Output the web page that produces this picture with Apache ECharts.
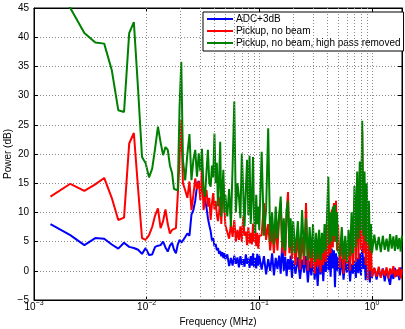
<!DOCTYPE html>
<html><head><meta charset="utf-8">
<script src="https://cdn.jsdelivr.net/npm/echarts@6/dist/echarts.min.js"></script>
<style>html,body{margin:0;padding:0;background:#fff}#c{width:405px;height:329px}</style>
</head><body><div id="c"></div>
<script>
// Frequency samples (MHz)
const freqs = [
0.0014,0.0021,0.0028,0.0035,0.0042,0.0049,0.0056,0.0063,0.0070,0.0077,
0.0084,0.0091,0.0098,0.0105,0.0112,0.0119,0.0126,0.0133,0.0140,0.0147,
0.0154,0.0161,0.0168,0.0175,0.0182,0.0189,0.0196,0.0203,0.0210,
0.022,0.023,0.024,0.025,0.026,0.027,0.028,0.029,0.030,0.031,
0.032,0.033,0.034,0.035,0.036,0.037,0.038,0.039,0.040,0.041,
0.042,0.043,0.044,0.045,0.046,0.047,0.048,0.049,0.050,
0.052,0.054,0.056,0.058,0.060,0.062,0.064,0.066,0.068,0.070,
0.072,0.074,0.076,0.078,0.080,0.082,0.084,0.086,0.088,0.090,
0.092,0.094,0.096,0.098,0.100,
0.105,0.110,0.115,0.120,0.125,0.130,0.135,0.140,0.145,0.150,
0.155,0.160,0.165,0.170,0.175,0.180,0.185,0.190,0.195,0.200,
0.21,0.22,0.23,0.24,0.25,0.26,0.27,0.28,0.29,0.30,
0.31,0.32,0.33,0.34,0.35,0.36,0.37,0.38,0.39,0.40,
0.41,0.42,0.43,0.44,0.45,0.46,0.47,0.48,0.49,0.50,
0.52,0.54,0.56,0.58,0.60,0.62,0.64,0.66,0.68,0.70,
0.72,0.74,0.76,0.78,0.80,0.82,0.84,0.86,0.88,0.90,
0.92,0.94,0.96,0.98,1.00,
1.05,1.10,1.15,1.20,1.25,1.30,1.35,1.40,1.45,1.50,
1.55,1.60,1.65,1.70,1.75,1.80,1.85
];
// ADC+3dB (dB)
const adcDb = [
8.0,6.1,4.4,5.6,5.5,4.5,3.8,4.8,4.1,3.9,3.6,2.9,3.9,2.7,2.8,4.1,4.3,4.4,5.0,4.0,3.3,4.3,4.8,3.6,3.0,4.5,5.3,4.8,5.2,
5.8,6.4,6.0,9.6,10.4,12.0,14.5,15.4,14.0,14.3,13.6,12.3,10.8,9.0,7.8,6.8,5.2,5.6,4.2,4.6,3.5,3.9,2.9,3.4,2.5,3.2,2.2,3.0,2.0,
2.8,0.8,2.2,0.9,2.6,1.2,2.3,0.6,2.5,1.0,2.0,0.7,2.8,1.2,2.1,0.5,2.5,0.9,3.0,0.6,2.2,0.4,2.9,0.9,2.6,
0.2,2.5,-0.6,2.0,0.0,3.0,-0.8,2.2,0.3,2.6,-0.5,5.0,0.0,2.4,-0.9,2.0,0.2,2.6,-1.2,1.8,
-0.5,2.3,-1.4,1.9,-0.3,2.5,-2.0,1.6,-0.8,2.0,-1.5,1.5,-2.6,1.8,-0.6,2.4,-1.8,2.9,-0.2,3.6,0.1,3.2,-1.0,3.8,0.4,3.5,-2.8,3.0,0.0,2.4,
-0.8,2.1,-1.5,1.7,-0.3,1.9,-1.8,1.2,-0.5,1.8,-1.2,2.2,-0.4,3.0,-0.8,4.7,0.3,2.4,-1.6,1.2,-1.0,0.8,-2.0,0.6,-1.2,
0.5,-1.5,0.2,-1.0,0.4,-1.8,0.3,-1.2,-2.4,0.0,-1.4,0.5,-1.0,0.2,-1.6,0.6,-0.8
];
// Pickup, no beam (dB)
const pickupDb = [
12.7,14.9,13.7,14.8,15.9,12.5,8.7,9.1,21.8,23.6,14.0,5.6,5.3,6.1,7.5,9.5,10.7,7.3,8.5,10.5,8.0,6.4,7.0,7.2,7.3,13.0,19.0,25.8,15.0,
13.8,12.5,15.3,10.4,13.0,15.8,14.0,15.3,12.1,17.5,10.4,12.5,13.8,11.0,12.5,8.7,11.5,13.3,10.5,12.0,9.6,8.5,10.0,12.7,8.0,13.0,15.0,11.0,7.8,
7.6,5.5,8.0,5.8,8.7,5.0,7.0,5.3,7.6,5.0,9.3,6.0,6.7,4.4,7.5,4.7,6.5,4.5,8.1,5.0,7.0,4.2,6.5,3.8,6.0,
6.1,11.6,5.3,8.0,3.5,7.0,3.0,8.0,3.5,9.0,11.6,3.0,7.5,2.5,10.0,13.5,3.0,7.6,2.0,6.5,
1.0,6.0,0.2,5.8,1.0,11.6,0.0,5.0,0.5,4.5,-0.5,3.5,0.7,4.0,-0.3,4.5,1.0,6.0,1.5,8.0,2.5,9.0,3.0,10.5,4.0,11.6,5.0,12.0,3.5,8.0,
0.5,6.0,-0.5,4.0,1.3,5.0,0.0,8.0,1.0,12.0,1.5,15.0,2.0,17.0,3.6,24.0,3.0,14.0,1.0,11.0,-1.6,7.0,0.0,4.0,-1.0,
0.5,-1.0,0.7,-1.2,0.3,-0.8,0.6,-1.3,0.4,-0.6,0.8,-1.1,0.2,-0.9,0.6,-1.3,0.3
];
// Pickup, no beam, high pass removed (dB)
const highPassDb = [
50,45,40.7,39.1,38.9,34.4,27.5,27.2,40.7,42.6,31.0,19.5,18.4,16.0,17.5,21.0,24.7,22.0,19.8,21.2,20.7,18.0,16.8,14.0,13.7,13.8,28.0,35.8,19.0,
15.5,20.0,23.4,15.5,19.0,20.7,16.1,20.1,17.0,20.9,14.0,12.7,17.0,20.7,15.0,14.4,18.0,16.0,23.5,15.0,18.5,11.0,15.5,22.1,9.3,14.0,17.3,10.0,13.0,
9.3,14.0,7.6,18.0,29.0,10.0,15.0,12.7,9.0,20.1,20.4,7.6,14.0,19.0,9.5,19.7,8.0,12.5,19.5,9.0,6.5,13.0,8.0,11.0,7.0,
20.4,6.0,10.5,24.4,5.0,10.0,4.5,11.0,5.5,9.5,12.7,4.0,9.0,3.5,10.5,12.0,4.0,9.0,3.0,8.5,
3.0,8.5,2.0,10.4,2.5,9.0,1.8,7.5,2.2,8.0,1.5,6.5,2.0,7.0,1.8,6.5,3.0,8.0,3.5,9.5,16.1,4.5,10.0,5.0,11.0,6.0,11.3,5.0,10.0,3.5,
2.5,7.5,2.0,6.0,1.5,7.0,2.5,10.0,3.0,14.5,4.0,17.0,5.5,18.7,7.0,25.7,6.0,17.0,5.0,15.0,4.5,12.0,3.5,8.0,3.0,
6.2,3.5,5.8,3.2,6.0,3.6,5.5,3.3,6.3,3.8,5.9,3.4,6.1,3.7,5.6,3.3,6.0
];
const seriesNames = ['ADC+3dB', 'Pickup, no beam', 'Pickup, no beam, high pass removed'];
const seriesColors = ['#0000ff', '#ff0000', '#008000'];
const xMin = 0.001, xMax = 1.85;
const yMin = -5, yMax = 45, yStep = 5;
const minorGrid = [];
[0.001, 0.01, 0.1, 1].forEach(d => { for (let m = 2; m <= 9; m++) if (m * d < xMax) minorGrid.push(+(m * d).toPrecision(3)); });

const FONT = 'Liberation Sans, Arial, Helvetica, sans-serif';
const gridStyle = { color: '#8a8a8a', type: [1, 2], width: 1 };
const mk = vals => freqs.map((f, i) => [f, vals[i]]);
const sup = v => {
  const e = Math.round(Math.log10(v));
  return '{b|10}{e|' + (e < 0 ? '\u2212' + (-e) : e) + '}';
};
const chart = echarts.init(document.getElementById('c'), null, { renderer: 'canvas' });
chart.setOption({
  animation: false,
  backgroundColor: '#fff',
  textStyle: { fontFamily: FONT },
  grid: { left: 34, right: 3, top: 8, bottom: 29, containLabel: false, outerBoundsMode: 'none',
          show: true, borderColor: '#000', borderWidth: 1, backgroundColor: 'transparent' },
  legend: {
    data: seriesNames, orient: 'vertical', left: 203, top: 12,
    backgroundColor: '#fff', borderColor: '#000', borderWidth: 1,
    padding: [2, 3, 3, 4], itemGap: 2, itemWidth: 26, itemHeight: 10,
    textStyle: { fontSize: 10, color: '#000', fontFamily: FONT, padding: [0, 0, 0, -2] },
    icon: 'path://M0,4 L26,4 L26,6 L0,6 Z'
  },
  xAxis: [{
    type: 'log', logBase: 10, min: xMin, max: xMax,
    name: 'Frequency (MHz)', nameLocation: 'middle', nameGap: 17, nameMoveOverlap: false,
    nameTextStyle: { fontSize: 10, color: '#000', fontFamily: FONT },
    axisLine: { onZero: false, lineStyle: { color: '#000' } },
    axisTick: { inside: true, length: 4, lineStyle: { color: '#000' } },
    axisLabel: {
      formatter: sup, showMaxLabel: false, margin: 0, color: '#000',
      rich: { b: { fontSize: 10, fontFamily: FONT, color: '#000', verticalAlign: 'bottom' },
              e: { fontSize: 7, fontFamily: FONT, color: '#000', verticalAlign: 'bottom', padding: [0, 0, 5, 0] } }
    },
    splitLine: { show: true, lineStyle: gridStyle }
  }, {
    type: 'log', logBase: 10, min: xMin, max: xMax, position: 'top',
    axisLine: { onZero: false, lineStyle: { color: '#000' } },
    axisTick: { inside: true, length: 4, lineStyle: { color: '#000' } },
    axisLabel: { show: false }, splitLine: { show: false }
  }],
  yAxis: [{
    type: 'value', min: yMin, max: yMax, interval: yStep,
    name: 'Power (dB)', nameLocation: 'middle', nameGap: 21, nameMoveOverlap: false,
    nameTextStyle: { fontSize: 10, color: '#000', fontFamily: FONT },
    axisLine: { show: true, onZero: false, lineStyle: { color: '#000' } },
    axisTick: { show: true, inside: true, length: 4, lineStyle: { color: '#000' } },
    axisLabel: { fontSize: 10, color: '#000', margin: 5, fontFamily: FONT,
      formatter: v => (v < 0 ? '\u2212' + (-v) : '' + v) },
    splitLine: { show: true, lineStyle: gridStyle }
  }, {
    type: 'value', min: yMin, max: yMax, interval: yStep, position: 'right',
    axisLine: { show: true, onZero: false, lineStyle: { color: '#000' } },
    axisTick: { show: true, inside: true, length: 4, lineStyle: { color: '#000' } },
    axisLabel: { show: false }, splitLine: { show: false }
  }],
  series: [
    {
      type: 'line', name: '_grid', data: [], silent: true, z: 1,
      markLine: { silent: true, symbol: 'none', label: { show: false }, animation: false,
        lineStyle: gridStyle, data: minorGrid.map(v => ({ xAxis: v })) }
    },
    ...seriesNames.map((n, i) => ({
      type: 'line', name: n, data: mk([adcDb, pickupDb, highPassDb][i]),
      showSymbol: false, symbol: 'none', z: 2 + i,
      lineStyle: { color: seriesColors[i], width: 2 }, itemStyle: { color: seriesColors[i] },
      clip: true
    }))
  ]
});
</script></body></html>
